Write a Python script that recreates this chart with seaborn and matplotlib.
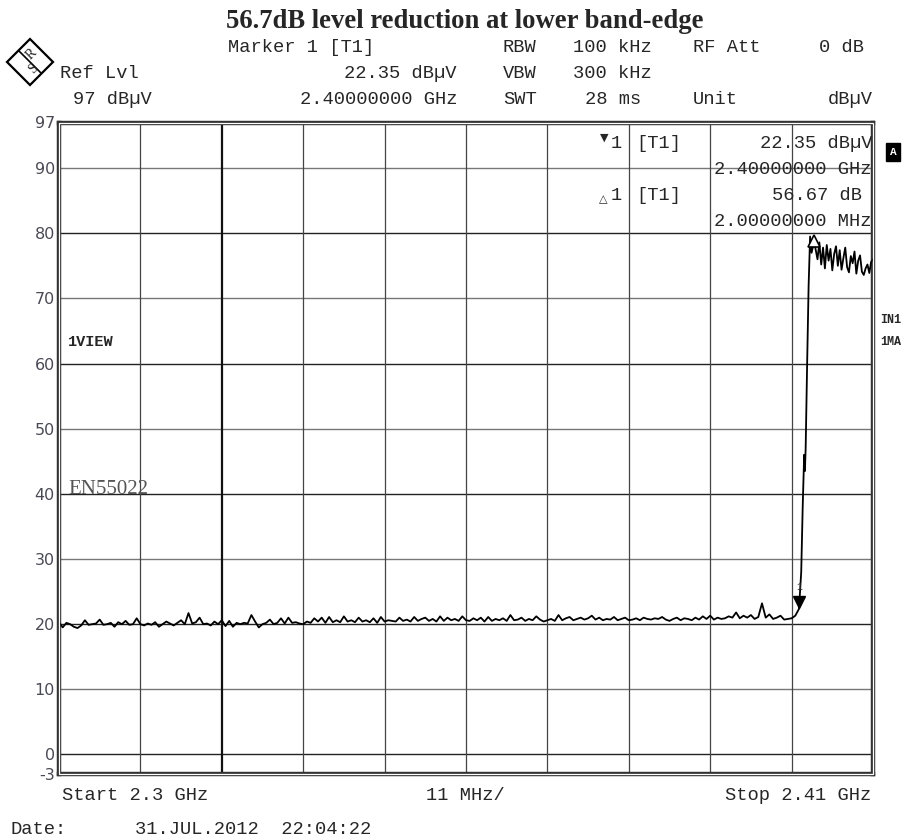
import numpy as np
import pandas as pd
import matplotlib.pyplot as plt
import matplotlib.transforms as mtrans
from matplotlib.patches import Rectangle, Polygon
import seaborn as sns

# trace below the band edge, 0.5 MHz steps from 2.300 GHz
noise_level = [
    20.3, 19.5, 20.2, 20.0, 19.6, 19.4, 19.8, 20.6, 19.9, 20.0, 20.1, 20.7, 19.9, 20.0, 20.2, 19.6, 20.3, 20.0, 20.5, 19.9,
    20.0, 20.9, 20.0, 19.8, 20.1, 19.9, 20.3, 19.6, 20.0, 20.4, 20.1, 19.8, 20.2, 20.6, 20.0, 21.7, 20.1, 20.3, 21.0, 20.0,
    20.1, 19.8, 20.4, 20.0, 20.6, 19.7, 20.5, 19.6, 20.2, 20.0, 20.2, 20.1, 21.4, 20.4, 19.5, 20.0, 20.2, 20.7, 20.0, 20.2,
    20.9, 20.1, 21.0, 20.2, 20.3, 20.1, 20.0, 20.4, 20.2, 20.9, 20.4, 21.0, 20.2, 21.1, 20.3, 20.6, 20.3, 21.2, 20.4, 20.6,
    20.3, 21.0, 20.4, 20.6, 20.3, 20.9, 20.2, 21.1, 20.4, 20.6, 20.5, 20.4, 21.0, 20.5, 20.7, 20.4, 21.1, 20.5, 20.8, 21.0,
    20.5, 20.8, 20.4, 21.2, 20.5, 21.0, 20.6, 20.8, 20.5, 21.2, 20.6, 20.5, 20.9, 20.6, 21.0, 20.4, 21.1, 20.5, 20.8, 20.6,
    20.9, 20.5, 21.4, 20.6, 20.7, 21.0, 20.5, 20.8, 20.6, 21.2, 20.7, 20.4, 20.6, 20.8, 20.5, 21.4, 20.6, 20.9, 21.1, 20.6,
    20.8, 21.0, 20.7, 20.9, 21.3, 20.7, 21.0, 20.6, 20.8, 20.7, 21.1, 20.6, 20.8, 21.0, 20.6, 20.7, 20.9, 20.6, 21.0, 20.8,
    20.7, 20.9, 20.8, 21.1, 20.7, 20.5, 20.8, 21.0, 20.6, 20.9, 20.8, 20.6, 21.0, 20.7, 21.2, 20.8, 21.3, 20.7, 21.0, 20.8,
    20.9, 21.2, 21.0, 21.8, 20.9, 21.3, 21.0, 21.4, 20.8, 21.1, 23.2, 21.0, 21.5, 20.8, 21.0, 21.3, 20.7, 20.8, 20.9, 21.3,
]
# band edge rise
rise_freq = [2.4000, 2.4003, 2.4005, 2.4007, 2.4008, 2.4009, 2.4011, 2.4013, 2.4015, 2.4017, 2.4019, 2.4020]
rise_level = [22.35, 28.0, 38.0, 46.0, 43.5, 47.0, 60.0, 72.0, 79.5, 77.0, 78.0, 79.0]
# in-band trace, 0.25 MHz steps from 2.40225 GHz
top_level = [77.5, 76.0, 78.6, 75.2, 77.8, 74.6, 78.2, 75.8, 77.6, 74.3, 76.8, 78.0, 75.0, 77.4, 74.4, 76.2,
             77.8, 74.8, 74.0, 76.5, 75.4, 77.2, 73.8, 75.8, 76.6, 74.1, 73.6, 74.6, 75.2, 73.9, 75.6, 76.0]

marker_freq, marker_level = 2.400, 22.35
delta_freq, delta_level = 2.402, 79.0
y_ticks = [-3, 0, 10, 20, 30, 40, 50, 60, 70, 80, 90, 97]

freq_noise = 2.300 + np.arange(len(noise_level)) * 0.0005
freq_top = 2.40225 + np.arange(len(top_level)) * 0.00025
df = pd.DataFrame({
    'freq': np.concatenate([freq_noise, rise_freq, freq_top]),
    'level': np.concatenate([noise_level, rise_level, top_level]),
})

sns.set_style('white')
plt.rcParams['font.family'] = ['DejaVu Sans']
MONO = 'Liberation Mono'

W, H = 908, 836
fig = plt.figure(figsize=(W / 100, H / 100), dpi=100)
fx = lambda px: px / W
fy = lambda py: 1 - py / H

ax = fig.add_axes([fx(59), fy(774), fx(873) - fx(59), fy(122.5) - fy(774)])
ax.set_xlim(2.3, 2.41)
ax.set_ylim(-3, 97)

# grid
for i, v in enumerate(range(0, 91, 10)):
    ax.axhline(v, color='#222' if i % 2 == 0 else '#777', lw=1.0, zorder=1)
for k in range(1, 10):
    x = 2.3 + 0.011 * k
    ax.axvline(x, color='#111' if k == 2 else '#444', lw=1.6 if k == 2 else 0.9, zorder=1)

sns.lineplot(data=df, x='freq', y='level', sort=False, estimator=None,
             color='black', lw=1.3, ax=ax, zorder=3)

# markers
up = mtrans.offset_copy(ax.transData, fig=fig, x=0, y=5, units='points')
ax.plot([marker_freq], [marker_level], marker='v', ms=8, color='black', transform=up, zorder=4)
ax.text(marker_freq, marker_level, '1', transform=mtrans.offset_copy(ax.transData, fig=fig, x=0, y=12, units='points'),
        fontsize=7, ha='center', va='bottom', family=MONO)
ax.plot([delta_freq], [delta_level], marker='^', ms=8, mfc='white', mec='black', mew=1.2,
        transform=mtrans.offset_copy(ax.transData, fig=fig, x=0, y=-1, units='points'), zorder=4)

ax.set_xticks([])
ax.set_yticks(y_ticks)
ax.set_yticklabels([str(v) for v in y_ticks], fontsize=11.5, color='#4a4a55')
ax.tick_params(axis='y', length=0, pad=3)
ax.set_xlabel('')
ax.set_ylabel('')
for s in ax.spines.values():
    s.set_visible(True)
    s.set_linewidth(3.2)
    s.set_color('#333')
ax.add_patch(Rectangle((0, 0), 1, 1, transform=ax.transAxes, fill=False, ec='white', lw=0.9, clip_on=False, zorder=6))

# in-plot labels
ax.text(fx(68), fy(342), '1VIEW', transform=fig.transFigure, family=MONO, fontsize=11, weight='bold', va='center')
ax.text(fx(68), fy(490), 'EN55022', transform=fig.transFigure, family='Liberation Serif', fontsize=15,
        color='#555', va='center')

# marker readout
def t(x, y, s, ha='left', **kw):
    fig.text(fx(x), fy(y), s, ha=ha, va='center', family=MONO, fontsize=13.5, **kw)

fig.text(fx(604), fy(138), '▼', ha='center', va='center', fontsize=8)
t(611, 144, '1')
fig.text(fx(603), fy(199), '△', ha='center', va='center', fontsize=8)
t(611, 196, '1')
t(636, 144, '[T1]')
t(636, 196, '[T1]')
t(872, 144, '22.35 dBµV', ha='right')
t(872, 170, '2.40000000 GHz', ha='right')
t(862, 196, '56.67 dB', ha='right')
t(872, 221, '2.00000000 MHz', ha='right')

# header
fig.text(fx(465), fy(22), '56.7dB level reduction at lower band-edge', ha='center', va='center',
         family='Liberation Serif', weight='bold', fontsize=19.2)
t(228, 47, 'Marker 1 [T1]')
t(503, 47, 'RBW')
t(573, 47, '100 kHz')
t(693, 47, 'RF Att')
t(864, 47, '0 dB', ha='right')
t(60, 73, 'Ref Lvl')
t(457, 73, '22.35 dBµV', ha='right')
t(503, 73, 'VBW')
t(573, 73, '300 kHz')
t(73, 99, '97 dBµV')
t(457, 99, '2.40000000 GHz', ha='right')
t(503, 99, 'SWT')
t(585, 99, '28 ms')
t(693, 99, 'Unit')
t(873, 99, 'dBµV', ha='right')

# footer
t(62, 795, 'Start 2.3 GHz')
t(465, 795, '11 MHz/', ha='center')
t(871, 795, 'Stop 2.41 GHz', ha='right')
t(10, 829, 'Date:')
t(135, 829, '31.JUL.2012  22:04:22')

# side labels
fig.text(fx(893), fy(152), 'A', ha='center', va='center', family=MONO, fontsize=8, weight='bold', color='white',
         bbox=dict(boxstyle='square,pad=0.35', fc='black', ec='black'))
fig.text(fx(880), fy(320), 'IN1', ha='left', va='center', family=MONO, fontsize=8.5, weight='bold')
fig.text(fx(880), fy(342), '1MA', ha='left', va='center', family=MONO, fontsize=8.5, weight='bold')

# R&S logo
cx, cy, r = 30, 62, 23
fig.add_artist(Polygon([(fx(cx), fy(cy - r)), (fx(cx + r), fy(cy)), (fx(cx), fy(cy + r)), (fx(cx - r), fy(cy))],
                       closed=True, fill=False, ec='black', lw=1.6, transform=fig.transFigure))
fig.add_artist(plt.Line2D([fx(cx - 11), fx(cx + 11)], [fy(cy - 11), fy(cy + 11)], color='black', lw=1.2,
                          transform=fig.transFigure))
fig.text(fx(cx + 1), fy(cy - 8), 'R', ha='center', va='center', family='Liberation Serif', fontsize=10, rotation=45)
fig.text(fx(cx + 3), fy(cy + 7), 'S', ha='center', va='center', family='Liberation Serif', fontsize=10, rotation=45)

fig.savefig('out.png', dpi=100)
